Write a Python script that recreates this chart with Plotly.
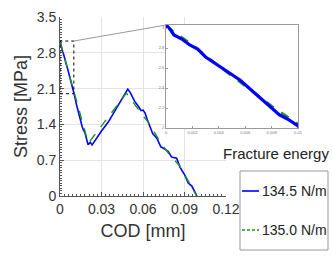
import plotly.graph_objects as go

# ---- data ----
cod_exp = [0, 0.0003, 0.0006, 0.0012, 0.0018, 0.0024, 0.0030, 0.0038, 0.0044, 0.0050,
           0.0056, 0.0062, 0.0068, 0.0074, 0.0080, 0.0086, 0.0092, 0.0098, 0.0100,
           0.0120, 0.0145, 0.0160, 0.0169, 0.0180, 0.0188, 0.0195, 0.0203, 0.0218,
           0.0232, 0.0300, 0.0350, 0.0400, 0.0450, 0.0490, 0.0506, 0.0540, 0.0570,
           0.0586, 0.0600, 0.0615, 0.0630, 0.0650, 0.0670, 0.0700, 0.0715, 0.0728,
           0.0750, 0.0783, 0.0807, 0.0825, 0.0843, 0.0868, 0.0900, 0.0928, 0.0952,
           0.0975, 0.0990]
stress_exp = [3.03, 2.99, 2.93, 2.89, 2.83, 2.79, 2.71, 2.64, 2.59, 2.54,
              2.48, 2.41, 2.34, 2.28, 2.20, 2.13, 2.09, 2.04, 2.02,
              1.78, 1.49, 1.36, 1.29, 1.24, 1.16, 1.08, 1.00, 1.05,
              1.00, 1.27, 1.45, 1.68, 1.90, 2.09, 2.03, 1.85, 1.74,
              1.67, 1.68, 1.62, 1.50, 1.36, 1.22, 1.13, 1.02, 0.965,
              0.93, 0.87, 0.76, 0.75, 0.74, 0.56, 0.42, 0.25, 0.20,
              0.08, 0.0]

cod_model = [0, 0.002, 0.004, 0.006, 0.008, 0.010, 0.015, 0.0205, 0.030, 0.040,
             0.048, 0.060, 0.065, 0.0723, 0.080, 0.0868, 0.090, 0.0988]
stress_model = [3.02, 2.83, 2.62, 2.42, 2.22, 2.04, 1.55, 1.03, 1.37, 1.72,
                2.01, 1.57, 1.40, 1.06, 0.78, 0.58, 0.42, 0.0]

legend_names = ["134.5 N/m", "135.0 N/m"]
legend_title = "Fracture energy"

x_ticks = [0, 0.03, 0.06, 0.09, 0.12]
x_ticktext = ["0", "0.03", "0.06", "0.09", "0.12"]
y_ticks = [0, 0.7, 1.4, 2.1, 2.8, 3.5]
y_ticktext = ["0", "0.7", "1.4", "2.1", "2.8", "3.5"]

ins_x_ticks = [0, 0.002, 0.004, 0.006, 0.008, 0.01]
ins_x_ticktext = ["0", "0.002", "0.004", "0.006", "0.008", "0.01"]
ins_y_ticks = [2, 2.2, 2.4, 2.6, 2.8, 3]
ins_y_ticktext = ["2", "2.2", "2.4", "2.6", "2.8", "3"]

zoom_box = dict(x0=0, x1=0.01, y0=2.0, y1=3.03)

# ---- layout geometry ----
W, H = 332, 257
ml, mr, mt, mb = 60, 34, 17, 61
pw = W - ml - mr
ph = H - mt - mb
main_dx = 166 / pw
ins_x0 = (166 - ml) / pw
ins_y0, ins_y1 = (196 - 128) / ph, (196 - 25) / ph


def px(xp):
    return (xp - ml) / pw


def py(yp):
    return (mt + ph - yp) / ph


BLUE = "#0000ff"
GREEN = "#1a961a"
TXT = "#333333"

fig = go.Figure()
fig.add_trace(go.Scatter(x=cod_exp, y=stress_exp, mode="lines", name=legend_names[0],
                         line=dict(color=BLUE, width=1.6), showlegend=False))
fig.add_trace(go.Scatter(x=cod_model, y=stress_model, mode="lines", name=legend_names[1],
                         line=dict(color=GREEN, width=1.4, dash="dash"), showlegend=False))
# inset
fig.add_trace(go.Scatter(x=cod_model, y=stress_model, mode="lines", showlegend=False,
                         line=dict(color=GREEN, width=2.5, dash="dash"),
                         xaxis="x2", yaxis="y2"))
fig.add_trace(go.Scatter(x=cod_exp, y=stress_exp, mode="lines", showlegend=False,
                         line=dict(color=BLUE, width=3.2),
                         xaxis="x2", yaxis="y2"))

xr = [0, 0.12]
yr = [0, 3.5]
cx = xr[0] + (xr[1] - xr[0]) * (ins_x0 / main_dx)
cy = yr[0] + (yr[1] - yr[0]) * ins_y1

# legend drawn manually (box, samples, labels)
leg_shapes = [
    dict(type="rect", xref="paper", yref="paper", x0=px(240), x1=px(328), y0=py(250), y1=py(171),
         line=dict(color="#999", width=1), fillcolor="white", layer="above"),
    dict(type="line", xref="paper", yref="paper", x0=px(242), x1=px(259), y0=py(191), y1=py(191),
         line=dict(color=BLUE, width=1.6)),
    dict(type="line", xref="paper", yref="paper", x0=px(242), x1=px(259), y0=py(230), y1=py(230),
         line=dict(color=GREEN, width=1.4, dash="3px,2px")),
]
leg_ann = [
    dict(text=legend_names[0], xref="paper", yref="paper", x=px(260), y=py(191),
         xanchor="left", yanchor="middle", showarrow=False, font=dict(size=14, color="#222")),
    dict(text=legend_names[1], xref="paper", yref="paper", x=px(260), y=py(230),
         xanchor="left", yanchor="middle", showarrow=False, font=dict(size=14, color="#222")),
    dict(text=legend_title, xref="paper", yref="paper", x=px(276), y=py(153),
         xanchor="center", yanchor="middle", showarrow=False, font=dict(size=15, color="#222")),
]

fig.update_layout(
    width=W, height=H,
    margin=dict(l=ml, r=mr, t=mt, b=mb, autoexpand=False),
    paper_bgcolor="white", plot_bgcolor="white",
    font=dict(family="Liberation Sans, Arial, sans-serif", color=TXT),
    showlegend=False,
    xaxis=dict(domain=[0, main_dx], range=xr, tickvals=x_ticks, ticktext=x_ticktext,
               automargin=False,
               showgrid=True, gridcolor="#e3e3e3", gridwidth=1, zeroline=False,
               showline=True, linecolor="#555", linewidth=1,
               ticks="inside", ticklen=4, tickcolor="#555",
               minor=dict(dtick=0.003, ticks="inside", ticklen=2, tickcolor="#555", showgrid=False),
               tickfont=dict(size=14, color=TXT),
               title=dict(text="COD [mm]", font=dict(size=18, color=TXT), standoff=8)),
    yaxis=dict(domain=[0, 1], range=yr, tickvals=y_ticks, ticktext=y_ticktext,
               automargin=False,
               showgrid=True, gridcolor="#e3e3e3", gridwidth=1, zeroline=False,
               showline=True, linecolor="#555", linewidth=1,
               ticks="inside", ticklen=4, tickcolor="#555",
               minor=dict(dtick=0.05, ticks="inside", ticklen=2, tickcolor="#555", showgrid=False),
               tickfont=dict(size=14, color=TXT),
               title=dict(text="Stress [MPa]", font=dict(size=18, color=TXT), standoff=4)),
    xaxis2=dict(domain=[ins_x0, 1], range=[0, 0.01], anchor="y2",
                automargin=False,
                tickvals=ins_x_ticks, ticktext=ins_x_ticktext,
                showgrid=False, zeroline=False, showline=True, mirror=True,
                linecolor="#999", linewidth=1, ticks="inside", ticklen=2, tickcolor="#999",
                tickfont=dict(size=4, color="#777")),
    yaxis2=dict(domain=[ins_y0, ins_y1], range=[2, 3.03], anchor="x2",
                automargin=False,
                tickvals=ins_y_ticks, ticktext=ins_y_ticktext,
                showgrid=False, zeroline=False, showline=True, mirror=True,
                linecolor="#999", linewidth=1, ticks="inside", ticklen=2, tickcolor="#999",
                tickfont=dict(size=4, color="#777")),
    shapes=[
        dict(type="rect", xref="x", yref="y", **zoom_box,
             line=dict(color="black", width=1, dash="dot")),
        dict(type="line", xref="x", yref="y", x0=zoom_box["x1"], y0=zoom_box["y1"],
             x1=cx, y1=cy, line=dict(color="#999", width=1)),
    ] + leg_shapes,
    annotations=leg_ann,
)

fig.write_html("out.html", config={"displayModeBar": False},
               post_script="document.body.style.margin='0';")
